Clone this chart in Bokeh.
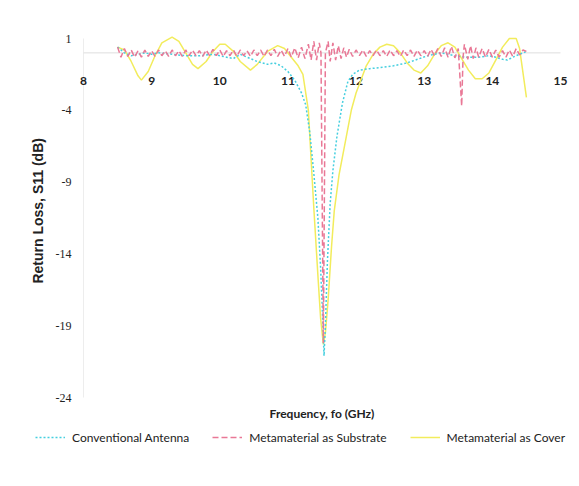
import math
from bokeh.plotting import figure
from bokeh.models import Range1d, Legend, LegendItem
from bokeh.core.properties import value
from bokeh.embed import file_html
from bokeh.resources import INLINE

# ---------------- data ----------------
x_ticks = [8, 9, 10, 11, 12, 13, 14, 15]
x_tick_labels = ["8", "9", "10", "11", "12", "13", "14", "15"]
y_ticks = [1, -4, -9, -14, -19, -24]
y_tick_labels = ["1", "-4", "-9", "-14", "-19", "-24"]
x_title = "Frequency, fo (GHz)"
y_title = "Return Loss, S11 (dB)"

conv_freq = [8.5, 8.6, 8.7, 8.8, 8.9, 9.0, 9.1, 9.3, 9.5, 9.7, 9.9, 10.0, 10.1,
             10.2, 10.3, 10.4, 10.55, 10.7, 10.8, 10.9, 11.0, 11.1, 11.2, 11.26,
             11.32, 11.38, 11.44, 11.48, 11.51, 11.53, 11.55, 11.58, 11.62, 11.66,
             11.72, 11.8, 11.88, 11.95, 12.05, 12.2, 12.4, 12.55, 12.75, 12.9,
             13.05, 13.25, 13.45, 13.6, 13.8, 13.95, 14.05, 14.15, 14.22, 14.3,
             14.4, 14.5]
conv_s11 = [0.4, 0.0, -0.2, -0.1, 0.0, -0.1, 0.0, -0.1, -0.2, -0.2, -0.1, -0.2, -0.3,
            -0.4, -0.1, -0.3, -0.6, -0.8, -0.7, -0.9, -1.3, -1.9, -2.8, -3.6,
            -5.5, -8.4, -11.5, -15.0, -18.5, -21.1, -19.0, -14.5, -10.5, -8.2,
            -5.8, -3.5, -2.0, -1.5, -1.2, -1.1, -1.0, -0.9, -0.7, -0.45,
            -0.2, 0.0, -0.2, -0.3, -0.3, -0.2, -0.3, -0.45, -0.5, -0.3,
            -0.1, 0.1]

sub_freq = [8.50, 8.55, 8.60, 8.65, 8.70, 8.75, 8.80, 8.85, 8.90, 8.95,
            9.00, 9.05, 9.10, 9.15, 9.20, 9.25, 9.30, 9.35, 9.40, 9.45,
            9.50, 9.55, 9.60, 9.65, 9.70, 9.75, 9.80, 9.85, 9.90, 9.95,
            10.00, 10.05, 10.10, 10.15, 10.20, 10.25, 10.30, 10.35, 10.40, 10.45,
            10.50, 10.55, 10.60, 10.65, 10.70, 10.75, 10.80, 10.85, 10.90, 10.95,
            11.00, 11.05, 11.10, 11.15, 11.20, 11.25, 11.30, 11.34, 11.38, 11.42,
            11.46, 11.485, 11.52, 11.55, 11.59, 11.62, 11.66, 11.70, 11.74, 11.78,
            11.82, 11.86, 11.90, 11.95, 12.00, 12.05, 12.10, 12.15, 12.20, 12.25,
            12.30, 12.35, 12.40, 12.45, 12.50, 12.55, 12.60, 12.65, 12.70, 12.75,
            12.80, 12.85, 12.90, 12.95, 13.00, 13.05, 13.10, 13.15, 13.20, 13.25,
            13.30, 13.35, 13.40, 13.45, 13.50, 13.55, 13.57, 13.59, 13.64, 13.68,
            13.72, 13.76, 13.80, 13.85, 13.90, 13.95, 14.00, 14.05, 14.10, 14.15,
            14.20, 14.25, 14.30, 14.35, 14.40, 14.45, 14.50]
sub_s11 = [0.4, -0.3, 0.3, -0.25, 0.2, -0.3, 0.15, -0.3, 0.2, -0.25,
           0.15, -0.25, 0.2, -0.2, 0.15, -0.25, 0.2, -0.2, 0.15, -0.25,
           0.2, -0.2, 0.2, -0.2, 0.15, -0.25, 0.2, -0.2, 0.25, -0.2,
           0.2, -0.25, 0.15, -0.2, 0.2, -0.25, 0.2, -0.2, 0.15, -0.25,
           0.2, -0.2, 0.2, -0.25, 0.2, -0.2, 0.25, -0.25, 0.2, -0.25,
           0.3, -0.3, 0.35, -0.35, 0.4, -0.4, 0.6, -0.5, 0.8, -0.5,
           0.7, 0.0, -20.2, 0.0, 0.8, -0.6, 0.7, -0.5, 0.5, -0.4,
           0.35, -0.3, 0.25, -0.25, 0.2, -0.2, 0.2, -0.25, 0.15, -0.2,
           0.2, -0.2, 0.15, -0.25, 0.2, -0.2, 0.15, -0.25, 0.2, -0.2,
           0.2, -0.25, 0.2, -0.2, 0.15, -0.25, 0.25, -0.2, 0.3, -0.25,
           0.35, -0.3, 0.45, -0.35, 0.3, -3.7, -0.3, 0.6, -0.45, 0.5,
           -0.4, 0.35, -0.3, 0.3, -0.3, 0.25, -0.3, 0.2, -0.3, 0.15,
           -0.3, 0.2, -0.25, 0.3, -0.15, 0.2, 0.1]

cov_freq = [8.5, 8.6, 8.7, 8.8, 8.85, 8.95, 9.05, 9.15, 9.3, 9.4, 9.5, 9.6, 9.68,
            9.8, 9.9, 10.0, 10.08, 10.2, 10.3, 10.45, 10.55, 10.7, 10.85, 10.95,
            11.05, 11.15, 11.22, 11.3, 11.38, 11.44, 11.48, 11.52, 11.55, 11.59,
            11.64, 11.68, 11.75, 11.85, 11.93, 12.0, 12.07, 12.15, 12.25, 12.35,
            12.45, 12.55, 12.65, 12.75, 12.85, 12.95, 13.05, 13.15, 13.25, 13.35,
            13.45, 13.55, 13.65, 13.75, 13.85, 13.95, 14.05, 14.15, 14.25, 14.35,
            14.4, 14.45, 14.5]
cov_s11 = [0.4, 0.2, -0.6, -1.6, -1.9, -1.3, -0.2, 0.7, 1.1, 0.8, 0.0, -0.8, -1.1,
           -0.6, 0.1, 0.6, 0.6, 0.1, -0.6, -1.2, -0.8, 0.1, 0.5, 0.3,
           -0.3, -0.9, -1.5, -4.0, -10.8, -15.5, -18.5, -20.3, -19.5, -17.2,
           -13.5, -11.0, -8.5, -6.0, -4.0, -2.8, -1.9, -0.9, -0.1, 0.4,
           0.6, 0.5, 0.0, -0.7, -1.2, -1.4, -0.9, -0.1, 0.5, 0.7,
           0.4, -0.4, -1.2, -1.8, -1.8, -1.4, -0.5, 0.4, 1.0, 1.0,
           0.3, -1.4, -3.1]

series_names = ["Conventional Antenna", "Metamaterial as Substrate",
                "Metamaterial as Cover"]
series_colors = ["#45cfdf", "#e97896", "#f2ec5c"]
series_dash = ["2 2", "6 3", "solid"]

# ---------------- layout constants (pixels) ----------------
W, H = 571, 470
PX_PER_X = 68.14          # pixels per GHz
PX_PER_Y = 14.36          # pixels per dB
LEFT_PX, TOP_PX = 83, 38  # where x=8 and y=1 fall

x0 = x_ticks[0] - LEFT_PX / PX_PER_X
y1 = y_ticks[0] + TOP_PX / PX_PER_Y

p = figure(width=W, height=H, output_backend="svg", toolbar_location=None,
           x_range=Range1d(x0, x0 + W / PX_PER_X),
           y_range=Range1d(y1 - H / PX_PER_Y, y1),
           x_axis_location=None, y_axis_location=None, min_border=0)
p.outline_line_color = None
p.xgrid.visible = False
p.ygrid.visible = False
p.background_fill_color = "white"
p.border_fill_color = "white"

# faint axis lines
p.segment(x0=[x_ticks[0]], x1=[x_ticks[0]], y0=[y_ticks[0]], y1=[y_ticks[-1]],
          line_color="#ededed", line_width=1)
p.segment(x0=[x_ticks[0]], x1=[x_ticks[-1]], y0=[0], y1=[0],
          line_color="#dedede", line_width=1)

# y tick labels, left of the y axis
p.text(x=[x_ticks[0]] * len(y_ticks), y=y_ticks, text=y_tick_labels,
       x_offset=-12, text_align="right", text_baseline="middle",
       text_font=value("Liberation Serif"), text_font_size="12px",
       text_color="#222222")
# x tick labels, just under the zero line
p.text(x=x_ticks, y=[0] * len(x_ticks), text=x_tick_labels, y_offset=28,
       text_align="center", text_baseline="middle",
       text_font=value("Lato"), text_font_size="12px",
       text_font_style="bold", text_color="#222222")
# axis titles
p.text(x=[(x_ticks[0] + x_ticks[-1]) / 2], y=[y_ticks[-1]], text=[x_title],
       y_offset=16, text_align="center", text_baseline="middle",
       text_font=value("Lato"), text_font_size="12px",
       text_font_style="bold", text_color="#222222")
p.text(x=[x_ticks[0]], y=[-11], text=[y_title], angle=math.pi / 2,
       x_offset=-46, text_align="center", text_baseline="middle",
       text_font=value("Liberation Sans"), text_font_size="14px",
       text_font_style="bold", text_color="#222222")

r_cov = p.line(cov_freq, cov_s11, line_color=series_colors[2], line_width=1.5)
r_conv = p.line(conv_freq, conv_s11, line_color=series_colors[0],
                line_width=1.5, line_dash=series_dash[0])
r_sub = p.line(sub_freq, sub_s11, line_color=series_colors[1], line_width=1.5,
               line_dash=series_dash[1])

legend = Legend(items=[LegendItem(label=series_names[0], renderers=[r_conv]),
                       LegendItem(label=series_names[1], renderers=[r_sub]),
                       LegendItem(label=series_names[2], renderers=[r_cov])],
                orientation="horizontal", location=(35, 25),
                glyph_width=30, glyph_height=16, label_standoff=7, spacing=23,
                padding=0, margin=0, border_line_color=None,
                background_fill_alpha=0, label_text_font="Lato",
                label_text_font_size="12px", label_text_color="#222222")
p.add_layout(legend, "center")

open("out.html", "w").write(file_html(p, INLINE))
